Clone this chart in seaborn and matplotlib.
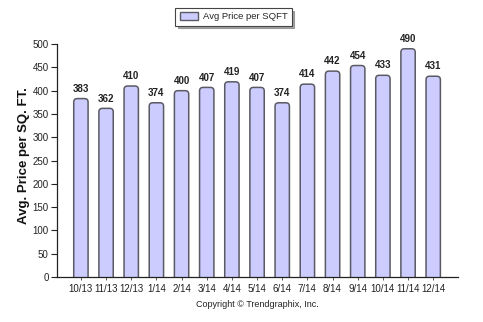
import matplotlib
matplotlib.use("Agg")
import matplotlib.pyplot as plt
import seaborn as sns
import pandas as pd
from matplotlib.patches import Patch, FancyBboxPatch

months = ["10/13", "11/13", "12/13", "1/14", "2/14", "3/14", "4/14", "5/14",
          "6/14", "7/14", "8/14", "9/14", "10/14", "11/14", "12/14"]
prices = [383, 362, 410, 374, 400, 407, 419, 407, 374, 414, 442, 454, 433, 490, 431]
yticks = list(range(0, 501, 50))

sns.set_theme(style="white")
plt.rcParams['font.family'] = ['Liberation Sans', 'DejaVu Sans']

df = pd.DataFrame({"month": months, "price": prices})
fig = plt.figure(figsize=(4.83, 3.22), dpi=100)
ax = fig.add_axes([0.118, 0.140, 0.830, 0.723])

bar_color = "#CCCCFF"
edge = "#5A5A64"
sns.barplot(data=df, x="month", y="price", color=bar_color, saturation=1,
            width=0.57, edgecolor=edge, linewidth=1.1, ax=ax)

ax.set_ylim(0, 500)
ax.set_xlim(-0.95, len(months) - 0.02)

# restyle bars with rounded tops (geometry taken from seaborn's bars)
bbox = ax.get_position()
fw, fh = fig.get_size_inches() * fig.dpi
xpp = (ax.get_xlim()[1] - ax.get_xlim()[0]) / (bbox.width * fw)
ypp = (ax.get_ylim()[1] - ax.get_ylim()[0]) / (bbox.height * fh)
aspect = ypp / xpp
for p in list(ax.patches):
    x0, y0, w, h = p.get_x(), p.get_y(), p.get_width(), p.get_height()
    p.set_visible(False)
    fb = FancyBboxPatch((x0, y0 - 10), w, h + 10,
                        boxstyle="round,pad=0,rounding_size=%f" % (3.5 * xpp),
                        mutation_aspect=aspect, facecolor=bar_color,
                        edgecolor=edge, linewidth=1.1, zorder=2)
    ax.add_patch(fb)

for c in ax.containers:
    ax.bar_label(c, labels=[str(v) for v in prices], padding=3.5,
                 fontsize=7, fontweight="bold", color="#222222")

ax.set_yticks(yticks)
ax.set_yticklabels([str(t) for t in yticks])
ax.tick_params(axis="y", length=4, width=0.8, direction="out", color="#222222",
               labelsize=7, pad=2, left=True)
ax.tick_params(axis="x", length=2, width=0.6, direction="out", color="#444444",
               labelsize=7, pad=3, bottom=True)
for lbl in ax.get_xticklabels() + ax.get_yticklabels():
    lbl.set_color("#222222")
ax.set_xlabel("")
ax.set_ylabel("Avg. Price per SQ. FT.", fontsize=9.5, fontweight="bold",
              color="#111111")
ax.yaxis.set_label_coords(-0.068, 0.52)
for s in ["top", "right"]:
    ax.spines[s].set_visible(False)
for s in ["left", "bottom"]:
    ax.spines[s].set_color("#222222")
    ax.spines[s].set_linewidth(0.9)

leg = ax.legend(handles=[Patch(facecolor=bar_color, edgecolor=edge, linewidth=1,
                               label="Avg Price per SQFT")],
                loc="upper left", bbox_to_anchor=(0.295, 1.155), fontsize=6.8,
                frameon=True, fancybox=False,
                shadow={"color": "0.55", "alpha": 0.8}, handlelength=2.0,
                handleheight=0.9, borderpad=0.45, handletextpad=0.45,
                borderaxespad=0)
leg.get_frame().set_edgecolor("#444444")
leg.get_frame().set_linewidth(0.8)

fig.text(0.532, 0.055, "Copyright \u00a9 Trendgraphix, Inc.", fontsize=6.5,
         ha="center", va="center", color="#222222")

fig.savefig("out.png", dpi=100)
